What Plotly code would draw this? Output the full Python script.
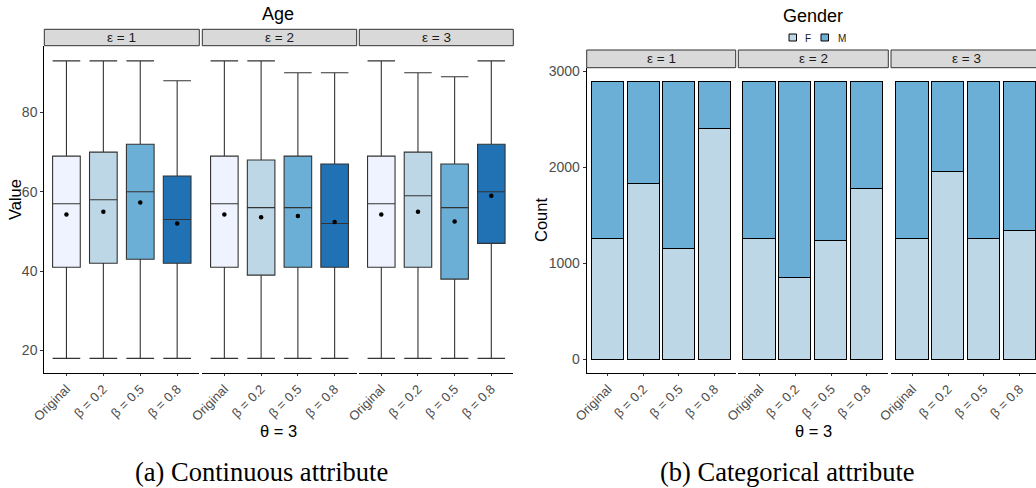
import plotly.graph_objects as go

# ---- data -------------------------------------------------------------
categories = ["Original", "β = 0.2", "β = 0.5", "β = 0.8"]
epsilons = ["ε = 1", "ε = 2", "ε = 3"]

# Age: box statistics per epsilon panel (rows) and category (columns)
age_lower = [[18, 18, 18, 18], [18, 18, 18, 18], [18, 18, 18, 18]]
age_q1 = [[41, 42, 43, 42], [41, 39, 41, 41], [41, 41, 38, 47]]
age_median = [[57, 58, 60, 53], [57, 56, 56, 52], [57, 59, 56, 60]]
age_q3 = [[69, 70, 72, 64], [69, 68, 69, 67], [69, 70, 67, 72]]
age_upper = [[93, 93, 93, 88], [93, 93, 90, 90], [93, 90, 89, 93]]
age_mean = [[54.3, 55.0, 57.3, 52.0], [54.3, 53.6, 53.9, 52.4], [54.3, 55.0, 52.5, 59.0]]

# Gender: counts per epsilon panel (rows) and category (columns)
gender_f = [[1255, 1834, 1155, 2403], [1255, 848, 1238, 1776], [1255, 1959, 1255, 1344]]
gender_m = [[1638, 1059, 1738, 490], [1638, 2045, 1655, 1117], [1638, 934, 1638, 1549]]

age_ticks = [20, 40, 60, 80]
count_ticks = [0, 1000, 2000, 3000]

# ---- styling ----------------------------------------------------------
W, H = 1036, 488
box_colors = ["#EFF3FF", "#BDD7E7", "#6BAED6", "#2171B5"]
f_color, m_color = "#BDD7E7", "#6BAED6"
edge = "#333333"
tick_grey = "#4D4D4D"
FONT = "Liberation Sans, Arial, sans-serif"
SERIF = "Liberation Serif, Times New Roman, serif"


def px_x(p):
    return p / W


def px_y(p):
    return 1 - p / H


# panel extents in pixels
left_panels = [(44.3, 199.3), (202.3, 356.7), (359.3, 513.3)]
right_panels = [(586.7, 735.7), (738.3, 888.3), (891.0, 1036.0)]
left_top, left_bottom = 46.0, 373.3
right_top, right_bottom = 67.7, 373.3
left_strip = (29.3, 45.7)
right_strip = (50.0, 67.7)
panel_w_units = 4.2  # -0.6 .. 3.6 in category units

fig = go.Figure()

# ---- box plots (left) ---------------------------------------------------
for p in range(3):
    xa = "x" if p == 0 else f"x{p + 1}"
    for c, cat in enumerate(categories):
        fig.add_trace(go.Box(
            x=[cat], q1=[age_q1[p][c]], median=[age_median[p][c]], q3=[age_q3[p][c]],
            lowerfence=[age_lower[p][c]], upperfence=[age_upper[p][c]],
            width=0.75, whiskerwidth=1, fillcolor=box_colors[c],
            line=dict(color=edge, width=1.1), boxpoints=False,
            xaxis=xa, yaxis="y", showlegend=False, hoverinfo="skip",
        ))
    fig.add_trace(go.Scatter(
        x=categories, y=age_mean[p], mode="markers",
        marker=dict(color="black", size=4.5), xaxis=xa, yaxis="y",
        showlegend=False, hoverinfo="skip",
    ))

# ---- stacked bars (right) ----------------------------------------------
for p in range(3):
    xa = f"x{p + 4}"
    fig.add_trace(go.Bar(
        x=categories, y=gender_f[p], width=0.9, marker=dict(color=f_color, line=dict(color="black", width=1.1)),
        xaxis=xa, yaxis="y2", showlegend=False, name="F",
    ))
    fig.add_trace(go.Bar(
        x=categories, y=gender_m[p], width=0.9, marker=dict(color=m_color, line=dict(color="black", width=1.1)),
        xaxis=xa, yaxis="y2", showlegend=False, name="M",
    ))

# ---- axes ---------------------------------------------------------------
layout = dict(
    width=W, height=H, margin=dict(l=0, r=0, t=0, b=0, autoexpand=False),
    paper_bgcolor="white", plot_bgcolor="white",
    barmode="stack", boxmode="overlay", bargap=0,
    font=dict(family=FONT, color=tick_grey),
    showlegend=False,
)

xbase = dict(
    type="category", showgrid=False, zeroline=False, showline=True, automargin=False,
    linecolor="black", linewidth=1.1, ticks="outside", ticklen=2,
    tickcolor=edge, tickangle=-45, tickfont=dict(size=13, color=tick_grey),
    categoryorder="array", categoryarray=categories,
)

for i, (a, b) in enumerate(left_panels + right_panels):
    key = "xaxis" if i == 0 else f"xaxis{i + 1}"
    rng = [-0.6, 3.6]
    if i == 5:
        # last panel extends past the page edge
        rng = [-0.6, -0.6 + (b - a) / ((right_panels[1][1] - right_panels[1][0]) / panel_w_units)]
    layout[key] = dict(xbase, domain=[px_x(a), px_x(b)], range=rng,
                       anchor="y" if i < 3 else "y2")

ybase = dict(
    showgrid=False, zeroline=False, showline=True, automargin=False, linecolor="black",
    linewidth=1.1, ticks="outside", ticklen=3, tickcolor=edge,
    tickfont=dict(size=14, color=tick_grey),
)
layout["yaxis"] = dict(ybase, domain=[px_y(left_bottom), px_y(left_top)],
                       range=[14.25, 96.75], anchor="x", tickvals=age_ticks)
layout["yaxis2"] = dict(ybase, domain=[px_y(right_bottom), px_y(right_top)],
                        range=[-144.65, 3037.65], anchor="x4", tickvals=count_ticks)
fig.update_layout(**layout)

# ---- facet strips ---------------------------------------------------------
shapes = []
annotations = []
for panels, (s0, s1) in ((left_panels, left_strip), (right_panels, right_strip)):
    for (a, b), lab in zip(panels, epsilons):
        b_full = b if b < W else a + (right_panels[1][1] - right_panels[1][0])
        shapes.append(dict(type="rect", xref="paper", yref="paper",
                           x0=px_x(a), x1=px_x(b_full), y0=px_y(s1), y1=px_y(s0),
                           fillcolor="#D9D9D9", line=dict(color=edge, width=1)))
        annotations.append(dict(text=lab, xref="paper", yref="paper",
                                x=px_x((a + b_full) / 2), y=px_y((s0 + s1) / 2),
                                showarrow=False, font=dict(size=13.5, color="#1A1A1A"),
                                xanchor="center", yanchor="middle"))

# ---- titles ---------------------------------------------------------------
def text(t, x, y, size, color="black", family=FONT, angle=0):
    annotations.append(dict(text=t, xref="paper", yref="paper", x=px_x(x), y=px_y(y),
                            showarrow=False, font=dict(size=size, color=color, family=family),
                            xanchor="center", yanchor="middle", textangle=angle))

text("Age", 278, 14, 18)
text("Gender", 813, 16, 18)
text("Value", 15, 200, 16.5, angle=-90)
text("Count", 541, 220, 16.5, angle=-90)
text("θ = 3", 278, 431, 16.5)
text("θ = 3", 813, 431, 16.5)
text("(a) Continuous attribute", 261, 472, 26.5, family=SERIF)
text("(b) Categorical attribute", 787, 472, 26.5, family=SERIF)

# ---- legend for the fill --------------------------------------------------
for x0, col, lab, tx in ((789, f_color, "F", 808), (821, m_color, "M", 841.5)):
    shapes.append(dict(type="rect", xref="paper", yref="paper",
                       x0=px_x(x0), x1=px_x(x0 + 7.5), y0=px_y(41), y1=px_y(34),
                       fillcolor=col, line=dict(color="black", width=1)))
    text(lab, tx, 38, 10, color="#1A1A1A")

fig.update_layout(shapes=shapes, annotations=annotations)
fig.write_html("out.html")
